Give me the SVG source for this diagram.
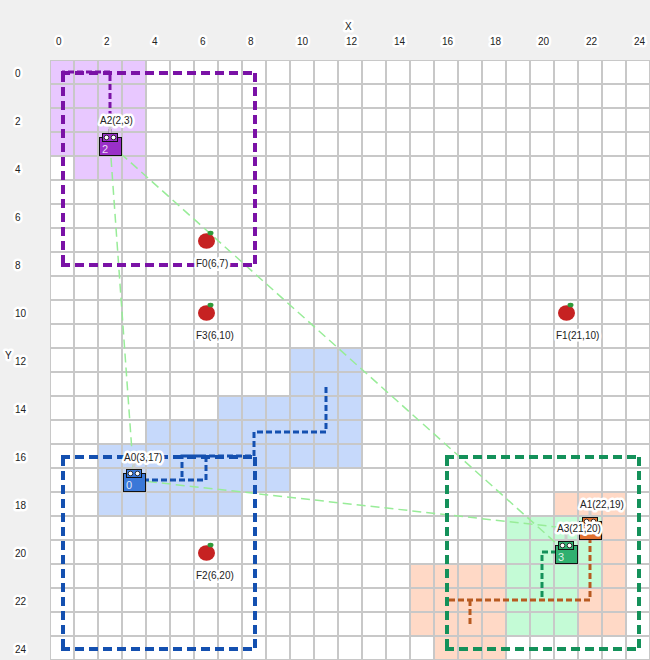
<svg xmlns="http://www.w3.org/2000/svg" width="650" height="660" viewBox="0 0 650 660">
<defs>
<pattern id="gridp" x="49" y="59" width="24" height="24" patternUnits="userSpaceOnUse"><path d="M24 0H0V24" fill="none" stroke="#c8c8c8" stroke-width="4"/></pattern>
<g id="apple"><ellipse cx="0" cy="0" rx="8.500" ry="7.800" fill="#c62222"/><ellipse cx="4" cy="-8" rx="3" ry="2.300" fill="#2f9a3a"/></g>
</defs>
<style>
text{font-family:"Liberation Sans",Arial,sans-serif;font-size:10px;fill:#222;paint-order:stroke;stroke:#fff;stroke-width:5px;stroke-linejoin:round}
.box{fill:none;stroke-width:4;stroke-dasharray:9 5}
.path{fill:none;stroke-width:3;stroke-dasharray:6 3}
.lk{fill:none;stroke:#98ec98;stroke-width:1.500;stroke-dasharray:9 5}
.eye{fill:#fff;stroke:#111;stroke-width:.8}
.ag{stroke:#111;stroke-width:1}
text.num{fill:#fff;fill-opacity:.85;stroke:none;font-size:11px}
.stub{stroke:#ccc;stroke-width:3}
</style>
<rect width="650" height="660" fill="#f0f0f0"/>
<rect x="50" y="60" width="600" height="600" fill="#fff"/>
<g id="regions">
<path d="M50 60H146V180H74V156H50Z" fill="#e8c8ff"/>
<path d="M290 348H362V468H290V492H242V516H98V444H146V420H218V396H290Z" fill="#c6d9fb"/>
<path d="M554 492H626V636H506V660H434V636H410V564H554Z" fill="#ffd9c6"/>
<path d="M506 516H602V588H578V636H506Z" fill="#c4fbd6"/>
</g>
<rect id="grid" x="50" y="60" width="600" height="600" fill="url(#gridp)"/>
<g id="connectors">
<path class="lk" d="M110 144L134 480"/>
<path class="lk" d="M110 144L566 552"/>
<path class="lk" d="M134 480L566 528"/>
<path class="box" stroke="#7a12a6" d="M61 73H257M63 73V265M61 265H257M255 73V265"/>
<path class="box" stroke="#1450b0" d="M61 457H257M63 457V649M61 649H257M255 457V649"/>
<path class="box" stroke="#14915a" d="M445 457H641M447 457V649M445 649H641M639 457V649"/>
<path class="path" stroke="#7a12a6" d="M110 144V72H62"/>
<path class="path" stroke="#1450b0" d="M134 480H206V456H182V480M182 456H254V432H326V384"/>
<path class="path" stroke="#b85a20" d="M590 528V600H446M470 600V624"/>
<path class="path" stroke="#14915a" d="M566 552H542V600"/>
</g>
<g id="axes">
<text x="345" y="30">X</text><text x="5" y="359">Y</text>
<text x="56" y="45">0</text><text x="104" y="45">2</text><text x="152" y="45">4</text><text x="200" y="45">6</text><text x="248" y="45">8</text><text x="297" y="45">10</text><text x="346" y="45">12</text><text x="394" y="45">14</text><text x="442" y="45">16</text><text x="490" y="45">18</text><text x="538" y="45">20</text><text x="586" y="45">22</text><text x="634" y="45">24</text>
<text x="15" y="77">0</text><text x="15" y="125">2</text><text x="15" y="173">4</text><text x="15" y="221">6</text><text x="15" y="269">8</text><text x="15" y="317">10</text><text x="15" y="365">12</text><text x="15" y="413">14</text><text x="15" y="461">16</text><text x="15" y="509">18</text><text x="15" y="557">20</text><text x="15" y="605">22</text><text x="15" y="653">24</text>
</g>
<g id="F0"><use href="#apple" x="206.500" y="241"/><text x="196" y="267">F0(6,7)</text></g>
<g id="F3"><use href="#apple" x="206.500" y="313"/><text x="196" y="339">F3(6,10)</text></g>
<g id="F1"><use href="#apple" x="566.500" y="313"/><text x="556" y="339">F1(21,10)</text></g>
<g id="F2"><use href="#apple" x="206.500" y="553"/><text x="196" y="579">F2(6,20)</text></g>
<g id="A2"><line class="stub" x1="110" y1="124" x2="110" y2="133"/><rect class="ag" x="99.500" y="137.500" width="22" height="18" fill="#9a30c8"/><rect class="ag" x="102.500" y="133.500" width="15" height="8" fill="#9a30c8"/><circle class="eye" cx="106.500" cy="137.500" r="2.300"/><circle class="eye" cx="113.500" cy="137.500" r="2.300"/><text class="num" x="102" y="153">2</text><text x="100" y="124">A2(2,3)</text></g>
<g id="A0"><line class="stub" x1="134" y1="460" x2="134" y2="469"/><rect class="ag" x="123.500" y="473.500" width="22" height="18" fill="#3a78d8"/><rect class="ag" x="126.500" y="469.500" width="15" height="8" fill="#3a78d8"/><circle class="eye" cx="130.500" cy="473.500" r="2.300"/><circle class="eye" cx="137.500" cy="473.500" r="2.300"/><text class="num" x="126" y="489">0</text><text x="124" y="461">A0(3,17)</text></g>
<g id="A1"><line class="stub" x1="590" y1="508" x2="590" y2="517"/><rect class="ag" x="579.500" y="521.500" width="22" height="18" fill="#e07030"/><rect class="ag" x="582.500" y="517.500" width="15" height="8" fill="#e07030"/><circle class="eye" cx="586.500" cy="521.500" r="2.300"/><circle class="eye" cx="593.500" cy="521.500" r="2.300"/><text x="580" y="508">A1(22,19)</text></g>
<g id="A3"><line class="stub" x1="566" y1="532" x2="566" y2="541"/><rect class="ag" x="555.500" y="545.500" width="22" height="18" fill="#30b070"/><rect class="ag" x="558.500" y="541.500" width="15" height="8" fill="#30b070"/><circle class="eye" cx="562.500" cy="545.500" r="2.300"/><circle class="eye" cx="569.500" cy="545.500" r="2.300"/><text class="num" x="558" y="561">3</text><text x="557" y="532">A3(21,20)</text></g>
</svg>
